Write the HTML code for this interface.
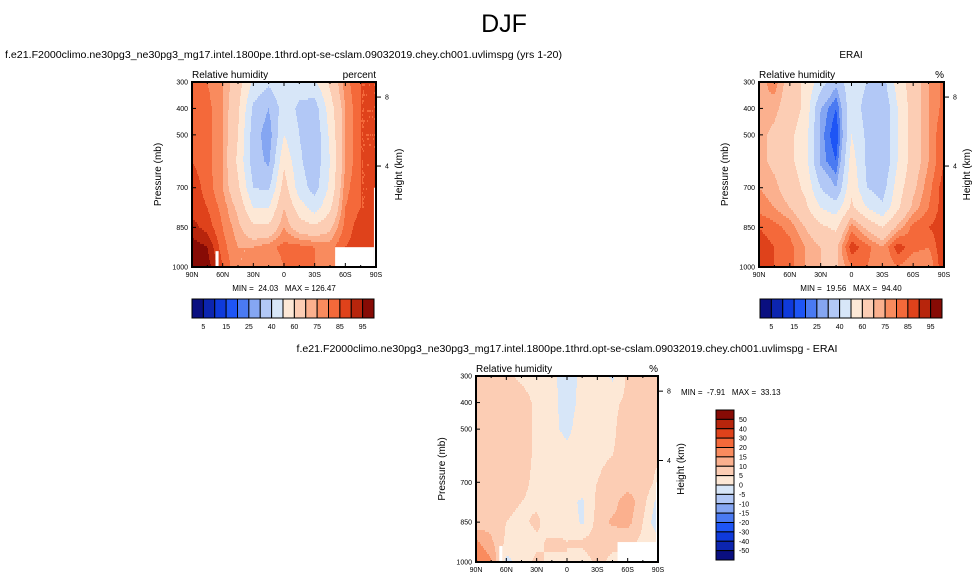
<!DOCTYPE html>
<html><head><meta charset="utf-8"><style>
html,body{margin:0;padding:0;background:#fff;}
svg{display:block;font-family:"Liberation Sans",sans-serif;}
text{white-space:pre;}
</style></head><body>
<svg id="fig" width="979" height="582" xmlns="http://www.w3.org/2000/svg">
<text x="504" y="32" font-size="25" text-anchor="middle">DJF</text>
<text x="5" y="58" font-size="10" textLength="557" lengthAdjust="spacingAndGlyphs">f.e21.F2000climo.ne30pg3_ne30pg3_mg17.intel.1800pe.1thrd.opt-se-cslam.09032019.chey.ch001.uvlimspg (yrs 1-20)</text>
<text x="851" y="58" font-size="10" text-anchor="middle">ERAI</text>
<text x="567" y="352" font-size="10" text-anchor="middle" textLength="541" lengthAdjust="spacingAndGlyphs">f.e21.F2000climo.ne30pg3_ne30pg3_mg17.intel.1800pe.1thrd.opt-se-cslam.09032019.chey.ch001.uvlimspg - ERAI</text>
<g id="layer"></g>
</svg>
<script>
// ---- data ----
const lats = [90,75,60,45,30,15,0,-15,-30,-45,-60,-75,-90];
const pressures = [300,400,500,600,700,775,850,925,1000];
const modelRH = [
[80,80,75,65,48,42,48,45,48,62,78,85,85],
[85,82,75,62,38,30,45,38,35,55,75,85,85],
[85,82,75,60,35,25,50,40,32,52,75,85,85],
[85,82,75,58,35,28,58,42,33,50,75,85,85],
[88,83,75,62,40,38,65,45,36,52,78,85,85],
[88,85,78,68,50,50,70,55,45,58,80,85,85],
[92,88,80,72,62,62,75,65,62,68,82,88,85],
[98,95,82,75,75,78,82,82,80,78,85,88,85],
[98,98,85,75,75,75,80,80,80,78,82,85,85]];
const eraiRH = [
[72,78,65,58,45,32,48,40,35,55,65,75,82],
[75,72,65,58,30,20,48,35,30,50,65,75,82],
[72,68,62,55,28,15,50,38,30,50,65,75,85],
[72,68,62,55,28,20,55,38,30,50,65,75,85],
[75,72,65,58,40,30,58,40,35,55,68,78,88],
[78,75,70,62,50,45,62,50,42,58,72,80,88],
[85,82,78,70,62,58,78,68,60,72,82,85,88],
[88,85,82,75,70,68,88,82,75,88,82,80,90],
[90,85,82,75,70,68,80,80,75,80,75,75,90]];
const diffRH = [
[7,6,6,4,3,1,-2,1,3,-1,6,8,6],
[7,8,8,7,4,2,-3,2,3,4,6,7,6],
[8,9,9,7,4,2,-2,4,3,4,8,6,5],
[8,9,8,7,4,4,3,4,4,5,7,8,6],
[8,9,8,6,4,5,3,4,5,7,7,9,3],
[7,8,6,5,4,3,2,-1,6,8,13,7,-2],
[7,8,5,4,6,2,4,-1,7,11,12,5,-4],
[16,11,4,2,4,6,5,6,7,6,6,4,2],
[21,16,-2,3,6,4,5,3,6,4,4,4,4]];
const rhLevels = [5,10,15,20,25,30,40,50,60,70,75,80,85,90,95];
const rhLabels = ["5","15","25","40","60","75","85","95"];
const diffLevels = [-50,-40,-30,-20,-15,-10,-5,0,5,10,15,20,30,40,50];
const diffLabels = ["50","40","30","20","15","10","5","0","-5","-10","-15","-20","-30","-40","-50"];
const latLabels = ["90N","60N","30N","0","30S","60S","90S"];
const latTicks = [90,60,30,0,-30,-60,-90];
const presTicks = [300,400,500,700,850,1000];
const heightTicks = [8,4];
const heightPres = [357,618];
const colors = ["#0a0f80","#0c25b0","#0f3adb","#1e55f5","#4a7af2","#85a6f2","#b2c8f6","#d7e6f8","#fde8d6","#fccdb4","#fbb08e","#f98b5e","#f4693a","#df421b","#b7250c","#870b05"];

const svg = document.getElementById('layer');
const NS = "http://www.w3.org/2000/svg";
function mk(tag, attrs){const e=document.createElementNS(NS,tag);for(const k in attrs)e.setAttribute(k,attrs[k]);svg.appendChild(e);return e;}
function colorFor(v, levels){let i=0;while(i<levels.length && v>=levels[i])i++;return colors[i];}
function interp(grid, lat, p){
  let fi=(90-lat)/15; let i=Math.min(11,Math.floor(fi)); let tx=fi-i;
  let j=0; while(j<pressures.length-2 && p>pressures[j+1]) j++;
  let ty=(p-pressures[j])/(pressures[j+1]-pressures[j]);
  const a=grid[j][i],b=grid[j][i+1],c=grid[j+1][i],d=grid[j+1][i+1];
  return a*(1-tx)*(1-ty)+b*tx*(1-ty)+c*(1-tx)*ty+d*tx*ty;
}
function panel(P, grid, levels, name, unit, blanks){
  const xs=lat=>P.x+(90-lat)/180*P.w;
  const ys=p=>P.y+(p-300)/700*P.h;
  const g=mk('g',{});
  
  
  const step=2;
  for(let py=0;py<P.h;py+=step){
    const p=300+(py+step/2)/P.h*700;
    let runStart=0, runCol=null;
    for(let px=0;px<=P.w;px+=1){
      let col=null;
      if(px<P.w){const lat=90-(px+0.5)/P.w*180; col=colorFor(interp(grid,lat,p),levels);}
      if(col!==runCol){
        if(runCol!==null){
          const r=document.createElementNS(NS,'rect');
          r.setAttribute('x',P.x+runStart);r.setAttribute('y',P.y+py);
          r.setAttribute('width',px-runStart+0.5);r.setAttribute('height',Math.min(step,P.h-py)+0.5);
          r.setAttribute('fill',runCol);
          
          
          g.appendChild(r);
        }
        runStart=px;runCol=col;
      }
    }
  }
  blanks.forEach(b=>{
    const r=mk('rect',{x:xs(b[0]),y:ys(b[2]),width:xs(b[1])-xs(b[0]),height:ys(b[3])-ys(b[2]),fill:'#fff'});
    
    
  });
  const fr=mk('rect',{x:P.x,y:P.y,width:P.w,height:P.h,fill:'none',stroke:'#000','stroke-width':2});
  
  
  for(let lat=90;lat>=-90;lat-=15){
    const len=(lat%30===0)?4:2;
    mk('line',{x1:xs(lat),x2:xs(lat),y1:P.y+P.h,y2:P.y+P.h-len,stroke:'#000','stroke-width':1});
    mk('line',{x1:xs(lat),x2:xs(lat),y1:P.y,y2:P.y+len,stroke:'#000','stroke-width':1});
  }
  latTicks.forEach((lat,k)=>{
    const t=mk('text',{x:xs(lat),y:P.y+P.h+10,'font-size':7,'text-anchor':'middle'});t.textContent=latLabels[k];
    
    
  });
  presTicks.forEach(p=>{
    mk('line',{x1:P.x,x2:P.x+4,y1:ys(p),y2:ys(p),stroke:'#000','stroke-width':1});
    const t=mk('text',{x:P.x-4,y:ys(p)+2.5,'font-size':7,'text-anchor':'end'});t.textContent=p;
    
    
  });
  heightTicks.forEach((h,k)=>{
    const y=ys(heightPres[k]);
    mk('line',{x1:P.x+P.w,x2:P.x+P.w+5,y1:y,y2:y,stroke:'#000','stroke-width':1});
    const t=mk('text',{x:P.x+P.w+9,y:y+2.5,'font-size':7});t.textContent=h;
    
    
  });
  const yl=mk('text',{x:0,y:0,'font-size':10,'text-anchor':'middle',transform:`translate(${P.x-31},${P.y+P.h/2}) rotate(-90)`});yl.textContent='Pressure (mb)';
  
  
  const hl=mk('text',{x:0,y:0,'font-size':10,'text-anchor':'middle',transform:`translate(${P.x+P.w+26},${P.y+P.h/2}) rotate(-90)`});hl.textContent='Height (km)';
  
  
  const lt=mk('text',{x:P.x,y:P.y-4,'font-size':10});lt.textContent='Relative humidity';
  
  
  const ut=mk('text',{x:P.x+P.w,y:P.y-4,'font-size':10,'text-anchor':'end'});ut.textContent=unit;
  
  
}
function hbar(x,y,w,h){
  const bw=w/16;
  colors.forEach((c,i)=>{
    const r=mk('rect',{x:x+i*bw,y:y,width:bw,height:h,fill:c,stroke:'#000','stroke-width':1});
    
    
  });
  rhLabels.forEach((l,k)=>{
    const t=mk('text',{x:x+(2*k+1)*bw,y:y+h+11,'font-size':7,'text-anchor':'middle'});t.textContent=l;
    
    
  });
}
function vbar(x,y,w,h){
  const bh=h/16;
  colors.slice().reverse().forEach((c,i)=>{
    const r=mk('rect',{x:x,y:y+i*bh,width:w,height:bh,fill:c,stroke:'#000','stroke-width':1});
    
    
  });
  diffLabels.forEach((l,k)=>{
    const t=mk('text',{x:x+w+5,y:y+(k+1)*bh+2.5,'font-size':7});t.textContent=l;
    
    
  });
}
function note(x,y,s,anchor){const t=mk('text',{x:x,y:y,'font-size':8,'text-anchor':anchor||'middle'});t.textContent=s;
  
  }

const blanks=[[-50,-88,925,1000],[67,64,940,1000],[-88,-90,700,1000]];
panel({x:192,y:82,w:184,h:185}, modelRH, rhLevels, 'model', 'percent', blanks);
panel({x:759,y:82,w:185,h:185}, eraiRH, rhLevels, 'erai', '%', []);
panel({x:476,y:376,w:182,h:186}, diffRH, diffLevels, 'diff', '%', blanks);
note(284,291,'MIN =  24.03   MAX = 126.47');
note(851,291,'MIN =  19.56   MAX =  94.40');
note(681,395,'MIN =  -7.91   MAX =  33.13','start');
hbar(192,299,182,19);
hbar(760,299,182,19);
vbar(716,410,18,150);
</script>
</body></html>
